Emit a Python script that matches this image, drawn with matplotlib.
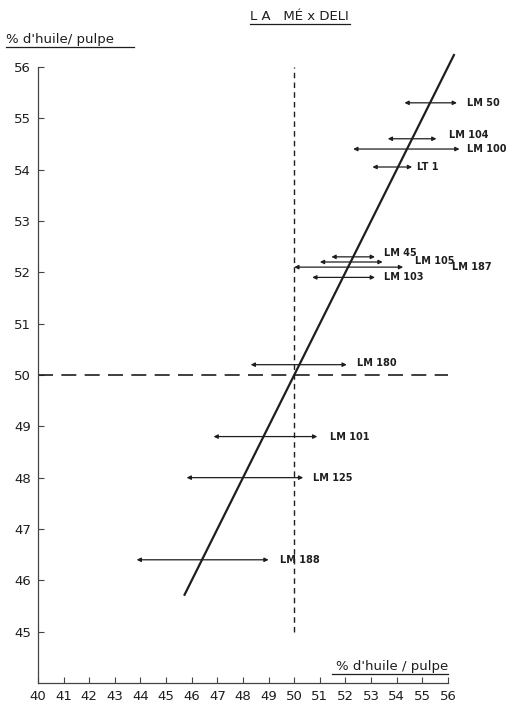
import numpy as np
import matplotlib.pyplot as plt

# descendants: label, oil/pulp value, low and high ends of the range
clones = ["LM 50", "LM 104", "LM 100", "LT 1", "LM 45", "LM 105",
          "LM 187", "LM 103", "LM 180", "LM 101", "LM 125", "LM 188"]
y_val = [55.3, 54.6, 54.4, 54.05, 52.3, 52.2, 52.1, 51.9, 50.2, 48.8, 48.0, 46.4]
x_lo = [54.3, 53.65, 52.3, 53.05, 51.45, 51.0, 50.0, 50.7, 48.3, 46.85, 45.8, 43.85]
x_hi = [56.35, 55.55, 56.45, 54.6, 53.15, 53.45, 54.25, 53.15, 52.05, 50.9, 50.35, 49.0]

# where each clone name sits (x in data units, small vertical nudge in points)
lab_x = [56.75, 56.05, 56.75, 54.8, 53.5, 54.7, 56.15, 53.5, 52.45, 51.4, 50.75, 49.45]
lab_dy = [0, 3, 0, 0, 3, 1, 0, 0, 1, 0, 0, 0]

diag = [45.7, 56.25]

ink = '#1e1e1e'

fig = plt.figure(figsize=(5.12, 7.04), dpi=100)
ax = fig.add_axes([0.0742, 0.0298, 0.8008, 0.8752])
ax.set_xlim(40, 56)
ax.set_ylim(44, 56)

for s in ['top', 'right']:
    ax.spines[s].set_visible(False)
for s in ['left', 'bottom']:
    ax.spines[s].set_color('#444444')
    ax.spines[s].set_linewidth(0.9)

ax.set_xticks(np.arange(40, 57))
ax.set_yticks(np.arange(45, 57))
ax.tick_params(direction='in', length=4, width=0.8, colors='#444444',
               labelcolor=ink, labelsize=9.5)
ax.tick_params(axis='x', pad=5)
ax.tick_params(axis='y', pad=5)

# reference lines at 50 %
ax.plot([40, 56], [50, 50], color=ink, lw=1.2, dashes=(9, 5), clip_on=False)
ax.plot([50, 50], [45, 56], color=ink, lw=1.0, dashes=(4, 3), clip_on=False)

# y = x line
ax.plot(diag, diag, color=ink, lw=1.6, clip_on=False, solid_capstyle='butt')

for name, y, lo, hi, lx, dy in zip(clones, y_val, x_lo, x_hi, lab_x, lab_dy):
    ax.annotate('', xy=(lo, y), xytext=(hi, y), annotation_clip=False,
                arrowprops=dict(arrowstyle='<|-|>', mutation_scale=6, lw=0.9,
                                color=ink, shrinkA=0, shrinkB=0))
    ax.annotate(name, xy=(lx, y), xytext=(0, dy), textcoords='offset points',
                ha='left', va='center', fontsize=7, fontweight='bold',
                color=ink, annotation_clip=False)

fig.text(0.585, 0.977, 'L A   MÉ x DELI', ha='center', va='center',
         fontsize=9.5, color=ink)
fig.add_artist(plt.Line2D([0.488, 0.683], [0.966, 0.966], color=ink, lw=0.9))

fig.text(0.012, 0.944, "% d'huile/ pulpe", ha='left', va='center',
         fontsize=9.5, color=ink)
fig.add_artist(plt.Line2D([0.012, 0.262], [0.933, 0.933], color=ink, lw=0.9))

fig.text(0.875, 0.053, "% d'huile / pulpe", ha='right', va='center',
         fontsize=9.5, color=ink)
fig.add_artist(plt.Line2D([0.648, 0.875], [0.042, 0.042], color=ink, lw=0.9))

fig.savefig('out.png', dpi=100, facecolor='white')
